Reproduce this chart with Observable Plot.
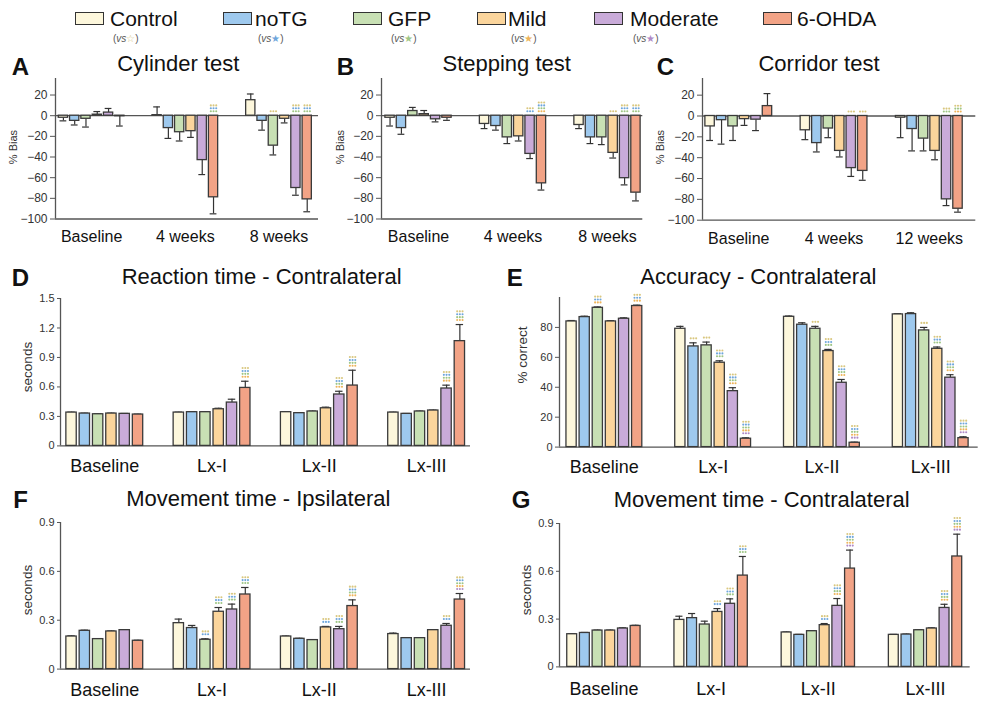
<!DOCTYPE html>
<html><head><meta charset="utf-8">
<script src="https://cdn.jsdelivr.net/npm/d3@7"></script>
<script src="https://cdn.jsdelivr.net/npm/@observablehq/plot@0.6"></script>
<style>
body{margin:0;background:#fff;font-family:"Liberation Sans",Arial,Helvetica,sans-serif;}
#fig{position:relative;width:981px;height:701px;overflow:hidden;background:#fff;}
.t{position:absolute;white-space:nowrap;line-height:1;color:#111;}
.sw{position:absolute;width:27px;height:11px;border:1.5px solid #333;}
</style></head><body><div id="fig"></div>
<script>
// ---------- data ----------
const series = ["Control", "noTG", "GFP", "Mild", "Moderate", "6-OHDA"];
const seriesColors = ["#fdf7dc", "#9ec9ee", "#c8e0b4", "#fbd59c", "#c9abd9", "#f2a386"];
const starColors = ["#d9c77f", "#6fa6dc", "#9fc686", "#eeb45a", "#b08ac6"];

const groupsAB = ["Baseline", "4 weeks", "8 weeks"];
const groupsC = ["Baseline", "4 weeks", "12 weeks"];
const groupsLx = ["Baseline", "Lx-I", "Lx-II", "Lx-III"];

// A: Cylinder test (% bias), mean and SEM per group x series
const cylMean = [[-2, -5, -3, 1, 3, -0.5], [0.5, -12, -16, -15, -43, -79], [15, -5, -29, -3, -70, -81]];
const cylSem  = [[3, 4, 8, 3, 4, 9.5], [8, 10, 8.5, 6, 14, 16], [6, 9, 9, 4, 7, 12]];
// B: Stepping test
const stepMean = [[-2, -12, 4.5, 1.5, -3.5, -2], [-8, -10, -21, -20, -37, -65.5], [-9, -21, -21, -36, -60.5, -74.5]];
const stepSem  = [[8, 6, 3.5, 3.5, 2.5, 2.5], [4.5, 4, 6, 4.5, 4.5, 6.5], [3.5, 6, 7, 5, 6.5, 8]];
// C: Corridor test
const corrMean = [[-10, -4, -10, -3, -3.5, 9.5], [-13.7, -26, -12, -33.5, -50, -52.7], [-1.6, -12.5, -21.7, -33.5, -80, -89]];
const corrSem  = [[13.5, 23, 13.5, 6, 10.5, 12], [9, 8.5, 8.8, 5.8, 8, 9], [19.2, 21, 11.8, 8.5, 6, 3.3]];
// D: Reaction time - contralateral (s)
const rtMean = [[0.339, 0.329, 0.322, 0.329, 0.326, 0.319], [0.339, 0.343, 0.343, 0.373, 0.441, 0.59], [0.343, 0.333, 0.35, 0.383, 0.523, 0.614], [0.339, 0.326, 0.35, 0.36, 0.584, 1.066]];
const rtSem  = [[0.004, 0.004, 0.004, 0.004, 0.004, 0.004], [0.004, 0.004, 0.004, 0.01, 0.034, 0.068], [0.004, 0.004, 0.004, 0.011, 0.033, 0.156], [0.004, 0.004, 0.004, 0.004, 0.034, 0.169]];
// E: Accuracy - contralateral (% correct)
const accMean = [[84, 86.9, 93.1, 84, 85.8, 94.3], [79.1, 67.3, 68, 56.4, 37.4, 5.6], [87.1, 81.8, 79.1, 64.2, 43, 2.9], [88.7, 88.9, 78, 65.7, 46.4, 6]];
const accSem  = [[0.6, 0.6, 0.6, 0.5, 0.6, 0.6], [1.6, 2.4, 2.2, 1.3, 2.3, 0.6], [0.5, 1.3, 1.6, 1.1, 2.2, 0.4], [0.5, 0.9, 2, 1.2, 2, 0.9]];
// F: Movement time - ipsilateral (s)
const mtiMean = [[0.2, 0.235, 0.184, 0.231, 0.239, 0.174], [0.282, 0.252, 0.18, 0.352, 0.366, 0.458], [0.2, 0.186, 0.178, 0.256, 0.245, 0.387], [0.215, 0.19, 0.19, 0.239, 0.266, 0.427]];
const mtiSem  = [[0.004, 0.004, 0.003, 0.003, 0.003, 0.003], [0.025, 0.016, 0.006, 0.026, 0.033, 0.043], [0.003, 0.003, 0.003, 0.006, 0.017, 0.038], [0.006, 0.003, 0.003, 0.003, 0.014, 0.037]];
// G: Movement time - contralateral (s)
const mtcMean = [[0.205, 0.213, 0.228, 0.228, 0.241, 0.257], [0.295, 0.306, 0.266, 0.345, 0.396, 0.573], [0.216, 0.201, 0.224, 0.262, 0.383, 0.617], [0.201, 0.203, 0.23, 0.241, 0.37, 0.693]];
const mtcSem  = [[0.003, 0.003, 0.003, 0.003, 0.004, 0.004], [0.023, 0.029, 0.021, 0.021, 0.031, 0.12], [0.003, 0.003, 0.003, 0.01, 0.046, 0.116], [0.003, 0.003, 0.003, 0.004, 0.023, 0.14]];

// significance marker rows (letters: c=vs Control, n=vs noTG, g=vs GFP, m=vs Mild, o=vs Moderate)
const sigA = [["", "", "", "", "", ""], ["", "", "", "", "", "cng"], ["", "", "c", "", "cng", "cng"]];
const sigB = [["", "", "", "", "", ""], ["", "", "", "", "cn", "cngm"], ["", "", "", "c", "cng", "cng"]];
const sigC = [["", "", "", "", "", ""], ["", "", "", "", "c", "c"], ["", "", "", "", "cg", "cgm"]];
const sigD = [["", "", "", "", "", ""], ["", "", "", "", "", "cngm"], ["", "", "", "", "cngm", "cngm"], ["", "", "", "", "cngm", "cngm"]];
const sigE = [["", "", "cnm", "", "", "cnm"], ["", "c", "c", "cng", "cngm", "cngmo"], ["", "", "c", "cng", "cngm", "cngmo"], ["", "", "c", "cng", "cngm", "cngmo"]];
const sigF = [["", "", "", "", "", ""], ["", "", "cn", "cng", "cng", "cng"], ["", "", "", "cn", "cng", "cngm"], ["", "", "", "", "cn", "cngmo"]];
const sigG = [["", "", "", "", "", ""], ["", "", "", "cn", "cng", "cng"], ["", "", "", "cn", "cngm", "cngmo"], ["", "", "", "", "cngm", "cngmo"]];

const legendVs = ["Control", "noTG", "GFP", "Mild", "Moderate"];

// ---------- helpers ----------
const fig = document.getElementById("fig");
const FONT = '"Liberation Sans", Arial, Helvetica, sans-serif';
const axisColor = "#555";
const sigCode = {c: 0, n: 1, g: 2, m: 3, o: 4};

function txt(str, x, baseline, size, opts = {}) {
  const d = document.createElement("div");
  d.className = "t";
  d.innerHTML = str;
  d.style.fontSize = size + "px";
  d.style.left = x + "px";
  d.style.top = (baseline - 0.847 * size) + "px";
  if (opts.weight) d.style.fontWeight = opts.weight;
  if (opts.color) d.style.color = opts.color;
  if (opts.center) d.style.transform = "translateX(-50%)";
  fig.appendChild(d);
  return d;
}
function vlabel(str, cx, cy, size) {
  const d = document.createElement("div");
  d.className = "t";
  d.textContent = str;
  d.style.fontSize = size + "px";
  d.style.color = "#333";
  d.style.left = cx + "px";
  d.style.top = cy + "px";
  d.style.transform = "translate(-50%,-50%) rotate(-90deg)";
  fig.appendChild(d);
}

function panel(cfg) {
  const {groups, mean, sem, sig, x0, x1, yTop, yBot, yDomain, yTicks, padL, padR, G,
         xFont, yFont, tickSize, tickPad, xPad, hlines, yFormat, bw, cw} = cfg;
  const data = [];
  const sigData = [];
  groups.forEach((g, gi) => series.forEach((s, si) => {
    const m = mean[gi][si], e = sem[gi][si];
    const dir = m < 0 ? -1 : 1;
    const tip = m + dir * e;
    data.push({group: g, series: s, x: gi * G + si, mean: m, tip});
    const rows = sig[gi][si];
    const anchor = Math.max(0, tip);
    for (let k = 0; k < rows.length; k++) {
      sigData.push({x: gi * G + si, y: anchor, row: rows.length - 1 - k, color: starColors[sigCode[rows[k]]]});
    }
  }));
  const mL = 45, mR = 6, mT = 30, mB = 40;
  const xmin = -padL, xmax = (groups.length - 1) * G + 5 + padR;
  const sigMarks = [];
  for (let r = 0; r < 5; r++) {
    const rowData = sigData.filter(d => d.row === r);
    for (let c = 0; c < 3; c++) {
      sigMarks.push(Plot.dot(rowData, {x: "x", y: "y", fill: "color", r: 1.05, dx: (c - 1) * 2.7, dy: -4.5 - r * 2.9}));
    }
  }
  const plot = Plot.plot({
    width: x1 - x0 + mL + mR,
    height: yBot - yTop + mT + mB,
    marginLeft: mL, marginRight: mR, marginTop: mT, marginBottom: mB,
    x: {domain: [xmin, xmax]},
    y: {domain: yDomain},
    color: {domain: series, range: seriesColors},
    style: {fontFamily: FONT, color: "#333", background: "transparent", overflow: "visible"},
    marks: [
      Plot.axisY({ticks: yTicks, tickSize, tickPadding: tickPad, fontSize: yFont, label: null, tickFormat: yFormat, stroke: axisColor}),
      Plot.axisX({ticks: groups.map((g, gi) => gi * G + 2.5), tickFormat: d => groups[Math.round((d - 2.5) / G)],
                  tickSize: 0, tickPadding: xPad, fontSize: xFont, label: null, fill: "#111"}),
      Plot.ruleY(hlines, {stroke: axisColor, strokeWidth: 1.3}),
      Plot.ruleX([xmin], {stroke: axisColor, strokeWidth: 1.3}),
      Plot.ruleX(data, {x: "x", y1: "mean", y2: "tip", stroke: "#333", strokeWidth: 1.2}),
      Plot.ruleY(data, {y: "tip", x1: d => d.x - cw, x2: d => d.x + cw, stroke: "#333", strokeWidth: 1.2}),
      Plot.rectY(data, {x1: d => d.x - bw, x2: d => d.x + bw, y1: 0, y2: "mean", fill: "series", stroke: "#3a3a3a", strokeWidth: 1.3}),
      ...sigMarks
    ]
  });
  plot.style.position = "absolute";
  plot.style.left = (x0 - mL) + "px";
  plot.style.top = (yTop - mT) + "px";
  fig.appendChild(plot);
}

// ---------- legend ----------
const legendPos = [[75, 110], [223, 255], [353, 388], [477, 508], [594, 630], [763, 797]];
series.forEach((s, i) => {
  const [sx, tx] = legendPos[i];
  const sw = document.createElement("div");
  sw.className = "sw";
  sw.style.left = sx + "px"; sw.style.top = "12px";
  sw.style.background = seriesColors[i];
  fig.appendChild(sw);
  txt(s, tx, 26, 21);
  if (i < legendVs.length) {
    const star = i === 0 ? "☆" : "★";
    txt(`(<i>vs</i><span style="color:${starColors[i]}">${star}</span>)`, tx + 3, 42, 10, {color: "#555"});
  }
});

// ---------- panels A-C ----------
const biasTicks = [-100, -80, -60, -40, -20, 0, 20];
const common3 = {yDomain: [-100, 36], yTicks: biasTicks, G: 8.3, xFont: 16, yFont: 12, tickSize: 5, tickPad: 3, xPad: 12, hlines: [0, -100], bw: 0.41, cw: 0.3};
panel({...common3, groups: groupsAB, mean: cylMean, sem: cylSem, sig: sigA, x0: 55, x1: 318, yTop: 77.5, yBot: 218, padL: 0.7, padR: 1.0});
panel({...common3, groups: groupsAB, mean: stepMean, sem: stepSem, sig: sigB, x0: 380.7, x1: 642, yTop: 77.5, yBot: 218, padL: 0.75, padR: 0.6});
panel({...common3, groups: groupsC, mean: corrMean, sem: corrSem, sig: sigC, x0: 701.7, x1: 975, yTop: 78.3, yBot: 220, padL: 0.66, padR: 1.55});

// ---------- panels D-G ----------
const f1 = d => d === 0 ? "0" : d3.format(".1f")(d);
const common4 = {groups: groupsLx, xFont: 18, yFont: 11, tickSize: 3, tickPad: 3, hlines: [0], bw: 0.39, cw: 0.28};
panel({...common4, mean: rtMean, sem: rtSem, sig: sigD, x0: 60, x1: 470, yTop: 298.3, yBot: 445.7, yDomain: [0, 1.5], yTicks: [0, 0.3, 0.6, 0.9, 1.2, 1.5], yFormat: f1, padL: 0.83, padR: 0.8, G: 8.07, xPad: 13});
panel({...common4, mean: accMean, sem: accSem, sig: sigE, x0: 559.3, x1: 978, yTop: 297.1, yBot: 446.7, yDomain: [0, 100], yTicks: [0, 20, 40, 60, 80], padL: 0.92, padR: 1.12, G: 8.29, xPad: 13, tickSize: 4});
panel({...common4, mean: mtiMean, sem: mtiSem, sig: sigF, x0: 60, x1: 470, yTop: 521.7, yBot: 668.3, yDomain: [0, 0.9], yTicks: [0, 0.3, 0.6, 0.9], yFormat: f1, padL: 0.83, padR: 0.8, G: 8.07, xPad: 14});
panel({...common4, mean: mtcMean, sem: mtcSem, sig: sigG, x0: 559.3, x1: 970, yTop: 523.3, yBot: 666.7, yDomain: [0, 0.9], yTicks: [0, 0.3, 0.6, 0.9], yFormat: f1, padL: 1.0, padR: 1.02, G: 8.45, xPad: 15});

// ---------- titles, letters, y labels ----------
const titles = [
  ["A", 11.7, 75, "Cylinder test", 178.3, 71.7],
  ["B", 336.7, 75, "Stepping test", 506.7, 71.7],
  ["C", 656.7, 75, "Corridor test", 819, 71.7],
  ["D", 11.7, 286.7, "Reaction time - Contralateral", 261.7, 284.3],
  ["E", 506.7, 286.7, "Accuracy - Contralateral", 758.3, 284.3],
  ["F", 13.3, 508, "Movement time - Ipsilateral", 258.3, 506.7],
  ["G", 511.7, 508, "Movement time - Contralateral", 761.7, 507.3]
];
titles.forEach(([L, lx, ly, T, tx, ty]) => {
  txt(L, lx, ly, 24, {weight: "bold"});
  txt(T, tx, ty, 22, {center: true});
});
vlabel("% Bias", 13.3, 146.7, 11);
vlabel("% Bias", 340, 146.7, 11);
vlabel("% Bias", 660, 146.7, 11);
vlabel("seconds", 28, 367, 13.5);
vlabel("% correct", 523.3, 355, 13.5);
vlabel("seconds", 28, 590, 13.5);
vlabel("seconds", 526.7, 590, 13.5);
</script></body></html>
